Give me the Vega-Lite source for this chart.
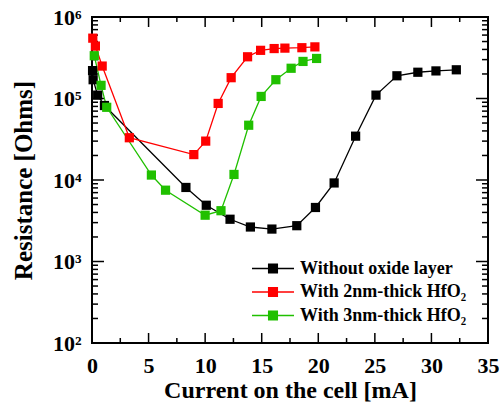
{
  "$schema": "https://vega.github.io/schema/vega-lite/v6.json",
  "width": 396,
  "height": 326,
  "autosize": {"type": "none"},
  "padding": {"left": 92, "top": 17, "right": 12, "bottom": 67},
  "config": {
    "view": {"stroke": "black", "strokeWidth": 2},
    "axis": {
      "domain": false, "grid": false, "labelFlush": false,
      "labelFont": "Liberation Serif", "labelFontWeight": "bold", "labelFontSize": 22, "labelColor": "black",
      "titleFont": "Liberation Serif", "titleFontWeight": "bold", "titleFontSize": 24, "titleColor": "black"
    }
  },
  "datasets": {
    "xt": [
      {"v": 0, "m": 1}, {"v": 2.5, "m": 0}, {"v": 5, "m": 1}, {"v": 7.5, "m": 0}, {"v": 10, "m": 1}, {"v": 12.5, "m": 0},
      {"v": 15, "m": 1}, {"v": 17.5, "m": 0}, {"v": 20, "m": 1}, {"v": 22.5, "m": 0}, {"v": 25, "m": 1}, {"v": 27.5, "m": 0},
      {"v": 30, "m": 1}, {"v": 32.5, "m": 0}, {"v": 35, "m": 1}
    ],
    "yt": [
      {"v": 100, "m": 1}, {"v": 200, "m": 0}, {"v": 300, "m": 0}, {"v": 400, "m": 0}, {"v": 500, "m": 0}, {"v": 600, "m": 0}, {"v": 700, "m": 0}, {"v": 800, "m": 0}, {"v": 900, "m": 0},
      {"v": 1000, "m": 1}, {"v": 2000, "m": 0}, {"v": 3000, "m": 0}, {"v": 4000, "m": 0}, {"v": 5000, "m": 0}, {"v": 6000, "m": 0}, {"v": 7000, "m": 0}, {"v": 8000, "m": 0}, {"v": 9000, "m": 0},
      {"v": 10000, "m": 1}, {"v": 20000, "m": 0}, {"v": 30000, "m": 0}, {"v": 40000, "m": 0}, {"v": 50000, "m": 0}, {"v": 60000, "m": 0}, {"v": 70000, "m": 0}, {"v": 80000, "m": 0}, {"v": 90000, "m": 0},
      {"v": 100000, "m": 1}, {"v": 200000, "m": 0}, {"v": 300000, "m": 0}, {"v": 400000, "m": 0}, {"v": 500000, "m": 0}, {"v": 600000, "m": 0}, {"v": 700000, "m": 0}, {"v": 800000, "m": 0}, {"v": 900000, "m": 0},
      {"v": 1000000, "m": 1}
    ],
    "pts": [
      {"s": "Without oxide layer", "x": 0.05, "y": 220000},
      {"s": "Without oxide layer", "x": 0.1, "y": 170000},
      {"s": "Without oxide layer", "x": 0.5, "y": 110000},
      {"s": "Without oxide layer", "x": 1.1, "y": 82000},
      {"s": "Without oxide layer", "x": 8.3, "y": 8100},
      {"s": "Without oxide layer", "x": 10.1, "y": 4900},
      {"s": "Without oxide layer", "x": 12.2, "y": 3300},
      {"s": "Without oxide layer", "x": 14.0, "y": 2650},
      {"s": "Without oxide layer", "x": 15.9, "y": 2500},
      {"s": "Without oxide layer", "x": 18.1, "y": 2750},
      {"s": "Without oxide layer", "x": 19.75, "y": 4600},
      {"s": "Without oxide layer", "x": 21.4, "y": 9200},
      {"s": "Without oxide layer", "x": 23.3, "y": 34500},
      {"s": "Without oxide layer", "x": 25.1, "y": 110000},
      {"s": "Without oxide layer", "x": 26.95, "y": 190000},
      {"s": "Without oxide layer", "x": 28.8, "y": 210000},
      {"s": "Without oxide layer", "x": 30.4, "y": 218000},
      {"s": "Without oxide layer", "x": 32.2, "y": 225000},
      {"s": "With 2nm-thick HfO₂", "x": 0.07, "y": 550000},
      {"s": "With 2nm-thick HfO₂", "x": 0.3, "y": 440000},
      {"s": "With 2nm-thick HfO₂", "x": 0.9, "y": 250000},
      {"s": "With 2nm-thick HfO₂", "x": 3.3, "y": 33000},
      {"s": "With 2nm-thick HfO₂", "x": 9.0, "y": 20500},
      {"s": "With 2nm-thick HfO₂", "x": 10.05, "y": 30000},
      {"s": "With 2nm-thick HfO₂", "x": 11.15, "y": 87000},
      {"s": "With 2nm-thick HfO₂", "x": 12.3, "y": 180000},
      {"s": "With 2nm-thick HfO₂", "x": 13.75, "y": 325000},
      {"s": "With 2nm-thick HfO₂", "x": 14.9, "y": 390000},
      {"s": "With 2nm-thick HfO₂", "x": 16.1, "y": 410000},
      {"s": "With 2nm-thick HfO₂", "x": 17.05, "y": 415000},
      {"s": "With 2nm-thick HfO₂", "x": 18.55, "y": 420000},
      {"s": "With 2nm-thick HfO₂", "x": 19.7, "y": 430000},
      {"s": "With 3nm-thick HfO₂", "x": 0.2, "y": 335000},
      {"s": "With 3nm-thick HfO₂", "x": 0.8, "y": 145000},
      {"s": "With 3nm-thick HfO₂", "x": 1.3, "y": 78000},
      {"s": "With 3nm-thick HfO₂", "x": 5.25, "y": 11500},
      {"s": "With 3nm-thick HfO₂", "x": 6.5, "y": 7500},
      {"s": "With 3nm-thick HfO₂", "x": 10.0, "y": 3700},
      {"s": "With 3nm-thick HfO₂", "x": 11.4, "y": 4200},
      {"s": "With 3nm-thick HfO₂", "x": 12.55, "y": 11700},
      {"s": "With 3nm-thick HfO₂", "x": 13.85, "y": 47000},
      {"s": "With 3nm-thick HfO₂", "x": 14.95, "y": 106000},
      {"s": "With 3nm-thick HfO₂", "x": 16.25, "y": 170000},
      {"s": "With 3nm-thick HfO₂", "x": 17.6, "y": 235000},
      {"s": "With 3nm-thick HfO₂", "x": 18.65, "y": 285000},
      {"s": "With 3nm-thick HfO₂", "x": 19.85, "y": 310000}
    ]
  },
  "resolve": {"scale": {"x": "independent", "y": "independent"}, "axis": {"x": "independent", "y": "independent"}},
  "layer": [
    {
      "data": {"name": "xt"},
      "mark": {"type": "tick", "orient": "vertical", "clip": true, "color": "black", "thickness": 1.5, "opacity": 1},
      "encoding": {
        "x": {"field": "v", "type": "quantitative", "scale": {"domain": [0, 35], "nice": false, "zero": false}, "axis": null},
        "y": {"datum": 100, "type": "quantitative", "scale": {"type": "log", "domain": [100, 1000000], "nice": false}, "axis": null},
        "size": {"condition": {"test": "datum.m == 1", "value": 20}, "value": 10}
      }
    },
    {
      "data": {"name": "xt"},
      "mark": {"type": "tick", "orient": "vertical", "clip": true, "color": "black", "thickness": 1.5, "opacity": 1},
      "encoding": {
        "x": {"field": "v", "type": "quantitative", "scale": {"domain": [0, 35], "nice": false, "zero": false}, "axis": null},
        "y": {"datum": 1000000, "type": "quantitative", "scale": {"type": "log", "domain": [100, 1000000], "nice": false}, "axis": null},
        "size": {"condition": {"test": "datum.m == 1", "value": 20}, "value": 10}
      }
    },
    {
      "data": {"name": "yt"},
      "mark": {"type": "tick", "orient": "horizontal", "clip": true, "color": "black", "thickness": 1.5, "opacity": 1},
      "encoding": {
        "y": {"field": "v", "type": "quantitative", "scale": {"type": "log", "domain": [100, 1000000], "nice": false}, "axis": null},
        "x": {"datum": 0, "type": "quantitative", "scale": {"domain": [0, 35], "nice": false, "zero": false}, "axis": null},
        "size": {"condition": {"test": "datum.m == 1", "value": 24}, "value": 12}
      }
    },
    {
      "data": {"name": "yt"},
      "mark": {"type": "tick", "orient": "horizontal", "clip": true, "color": "black", "thickness": 1.5, "opacity": 1},
      "encoding": {
        "y": {"field": "v", "type": "quantitative", "scale": {"type": "log", "domain": [100, 1000000], "nice": false}, "axis": null},
        "x": {"datum": 35, "type": "quantitative", "scale": {"domain": [0, 35], "nice": false, "zero": false}, "axis": null},
        "size": {"condition": {"test": "datum.m == 1", "value": 24}, "value": 12}
      }
    },
    {
      "data": {"name": "pts"},
      "mark": {"type": "line", "strokeWidth": 1.3},
      "encoding": {
        "x": {"field": "x", "type": "quantitative",
              "scale": {"domain": [0, 35], "nice": false, "zero": false},
              "axis": {"orient": "bottom", "ticks": false, "values": [0, 5, 10, 15, 20, 25, 30, 35],
                       "labelPadding": 12, "title": "Current on the cell [mA]", "titlePadding": 2}},
        "y": {"field": "y", "type": "quantitative",
              "scale": {"type": "log", "domain": [100, 1000000], "nice": false},
              "axis": {"orient": "left", "ticks": false, "values": [100, 1000, 10000, 100000, 1000000],
                       "labelPadding": 11,
                       "labelExpr": "'10' + ['⁰','¹','²','³','⁴','⁵','⁶'][round(log(datum.value)/LN10)]",
                       "title": "Resistance [Ohms]", "titleFontSize": 25, "titlePadding": 16}},
        "color": {"field": "s", "type": "nominal",
                  "scale": {"domain": ["Without oxide layer", "With 2nm-thick HfO₂", "With 3nm-thick HfO₂"], "range": ["#000000", "#ff0000", "#20c000"]}}
      }
    },
    {
      "data": {"name": "pts"},
      "mark": {"type": "point", "shape": "square", "filled": true, "size": 85, "opacity": 1},
      "encoding": {
        "x": {"field": "x", "type": "quantitative",
              "scale": {"domain": [0, 35], "nice": false, "zero": false}, "axis": null},
        "y": {"field": "y", "type": "quantitative",
              "scale": {"type": "log", "domain": [100, 1000000], "nice": false}, "axis": null},
        "color": {"field": "s", "type": "nominal",
                  "legend": {"orient": "none", "legendX": 170.5, "legendY": 241, "title": null,
                             "symbolType": "M-2,-0.06H2V0.06H-2Z M-0.48,-0.48H0.48V0.48H-0.48Z",
                             "symbolSize": 441, "symbolStrokeWidth": 0, "labelOffset": 16.5,
                             "labelFont": "Liberation Serif", "labelFontWeight": "bold", "labelFontSize": 18, "labelColor": "black",
                             "rowPadding": 3.5, "labelLimit": 300,
                             "encode": {"symbols": {"update": {"fill": {"scale": "color", "field": "value"}, "stroke": {"value": "transparent"}, "fillOpacity": {"value": 1}, "opacity": {"value": 1}}}}}}
      }
    }
  ]
}
